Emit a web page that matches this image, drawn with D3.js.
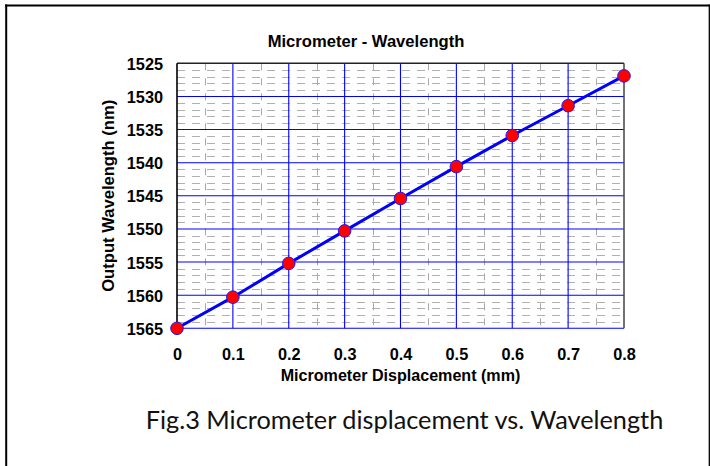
<!DOCTYPE html>
<html>
<head>
<meta charset="utf-8">
<script src="https://cdn.jsdelivr.net/npm/d3@7/dist/d3.min.js"></script>
<style>
  html, body { margin: 0; padding: 0; background: #fff; }
  svg { display: block; }
</style>
</head>
<body>
<svg id="chart" width="710" height="466"></svg>
<script>
// ---- data ----
const displacement = [0, 0.1, 0.2, 0.3, 0.4, 0.5, 0.6, 0.7, 0.8];
const wavelength = [1565, 1560.3, 1555.2, 1550.3, 1545.4, 1540.6, 1535.9, 1531.4, 1526.9];
const xTicks = [0, 0.1, 0.2, 0.3, 0.4, 0.5, 0.6, 0.7, 0.8];
const yTicks = [1525, 1530, 1535, 1540, 1545, 1550, 1555, 1560, 1565];
const xMinorTicks = [0.05, 0.15, 0.25, 0.35, 0.45, 0.55, 0.65, 0.75];
const yMinorTicks = [1526,1527,1528,1529,1531,1532,1533,1534,1536,1537,1538,1539,
                     1541,1542,1543,1544,1546,1547,1548,1549,1551,1552,1553,1554,
                     1556,1557,1558,1559,1561,1562,1563,1564];
const titleText = "Micrometer - Wavelength";
const xLabel = "Micrometer Displacement (mm)";
const yLabel = "Output Wavelength (nm)";
const caption = "Fig.3 Micrometer displacement vs. Wavelength";

// ---- layout ----
const svg = d3.select("#chart");
const L = 177, R = 624, T = 63.3, B = 328.3;
const x = d3.scaleLinear().domain([0, 0.8]).range([L, R]);
const y = d3.scaleLinear().domain([1525, 1565]).range([T, B]);
const boldFont = "'Liberation Sans', Arial, sans-serif";

// outer frame
svg.append("line").attr("x1", 5).attr("x2", 710).attr("y1", 5.5).attr("y2", 5.5)
  .attr("stroke", "#000").attr("stroke-width", 2);
svg.append("line").attr("x1", 6.2).attr("x2", 6.2).attr("y1", 4.5).attr("y2", 466)
  .attr("stroke", "#000").attr("stroke-width", 2);
svg.append("line").attr("x1", 709.3).attr("x2", 709.3).attr("y1", 4.5).attr("y2", 466)
  .attr("stroke", "#000").attr("stroke-width", 1.3);

const g = svg.append("g");

// minor grid (gray dashed)
g.selectAll(".hminor").data(yMinorTicks).enter().append("line")
  .attr("x1", L).attr("x2", R)
  .attr("y1", d => Math.round(y(d)) + 0.5).attr("y2", d => Math.round(y(d)) + 0.5)
  .attr("stroke", "#b0b0b0").attr("stroke-width", 1)
  .attr("stroke-dasharray", "8,7");
g.selectAll(".vminor").data(xMinorTicks).enter().append("line")
  .attr("x1", d => Math.round(x(d)) + 0.5).attr("x2", d => Math.round(x(d)) + 0.5)
  .attr("y1", T).attr("y2", B)
  .attr("stroke", "#a8a8a8").attr("stroke-width", 1)
  .attr("stroke-dasharray", "7,8");

// major grid (blue)
g.selectAll(".hmajor").data(yTicks.slice(1)).enter().append("line")
  .attr("x1", L).attr("x2", R)
  .attr("y1", d => y(d)).attr("y2", d => y(d))
  .attr("stroke", "#0000ff").attr("stroke-width", 1.1);
g.selectAll(".vmajor").data(xTicks.slice(1, -1)).enter().append("line")
  .attr("x1", d => x(d)).attr("x2", d => x(d))
  .attr("y1", T).attr("y2", B)
  .attr("stroke", "#0000ff").attr("stroke-width", 1.1);

// plot border
g.append("line").attr("x1", L).attr("x2", R).attr("y1", T).attr("y2", T)
  .attr("stroke", "#222").attr("stroke-width", 1.6);
g.append("line").attr("x1", R).attr("x2", R).attr("y1", T).attr("y2", B)
  .attr("stroke", "#444").attr("stroke-width", 1.5);
g.append("line").attr("x1", L).attr("x2", L).attr("y1", T).attr("y2", B + 0.5)
  .attr("stroke", "#000").attr("stroke-width", 1.6);

// axes labels via d3 axes (no tick lines)
const xAxis = d3.axisBottom(x).tickValues(xTicks).tickSize(0).tickPadding(0)
  .tickFormat(d => d === 0 ? "0" : d3.format(".1f")(d));
const xg = svg.append("g").attr("transform", `translate(0,${B})`).call(xAxis);
xg.select(".domain").remove();
xg.selectAll("text").attr("dy", null).attr("y", 31.7)
  .attr("font-family", boldFont).attr("font-weight", "bold").attr("font-size", 16.3).attr("fill", "#000");

const yAxis = d3.axisLeft(y).tickValues(yTicks).tickSize(0).tickPadding(0).tickFormat(d3.format("d"));
const yg = svg.append("g").attr("transform", `translate(${L},0)`).call(yAxis);
yg.select(".domain").remove();
yg.selectAll("text").attr("dy", null).attr("x", -14).attr("y", 6)
  .attr("font-family", boldFont).attr("font-weight", "bold").attr("font-size", 16.3).attr("fill", "#000");

// data line and points
const line = d3.line().x((d, i) => x(displacement[i])).y(d => y(d));
g.append("path").datum(wavelength).attr("d", line)
  .attr("fill", "none").attr("stroke", "#0000ff").attr("stroke-width", 3);
g.selectAll(".pt").data(wavelength).enter().append("circle")
  .attr("cx", (d, i) => x(displacement[i])).attr("cy", d => y(d)).attr("r", 6.3)
  .attr("fill", "#ff0000").attr("stroke", "#1a1aff").attr("stroke-width", 1);

// title
svg.append("text").attr("x", 366).attr("y", 46.5).attr("text-anchor", "middle")
  .attr("font-family", boldFont).attr("font-weight", "bold").attr("font-size", 16.6)
  .text(titleText);

// x label
svg.append("text").attr("x", (L + R) / 2).attr("y", 381).attr("text-anchor", "middle")
  .attr("font-family", boldFont).attr("font-weight", "bold").attr("font-size", 16.1)
  .text(xLabel);

// y label
svg.append("text").attr("transform", `translate(114,${(T + B) / 2}) rotate(-90)`)
  .attr("text-anchor", "middle")
  .attr("font-family", boldFont).attr("font-weight", "bold").attr("font-size", 16.6)
  .text(yLabel);

// caption
svg.append("text").attr("x", 404.5).attr("y", 429).attr("text-anchor", "middle")
  .attr("font-family", "Lato, 'Open Sans', sans-serif").attr("font-size", 25.3)
  .attr("fill", "#111")
  .text(caption);
</script>
</body>
</html>
